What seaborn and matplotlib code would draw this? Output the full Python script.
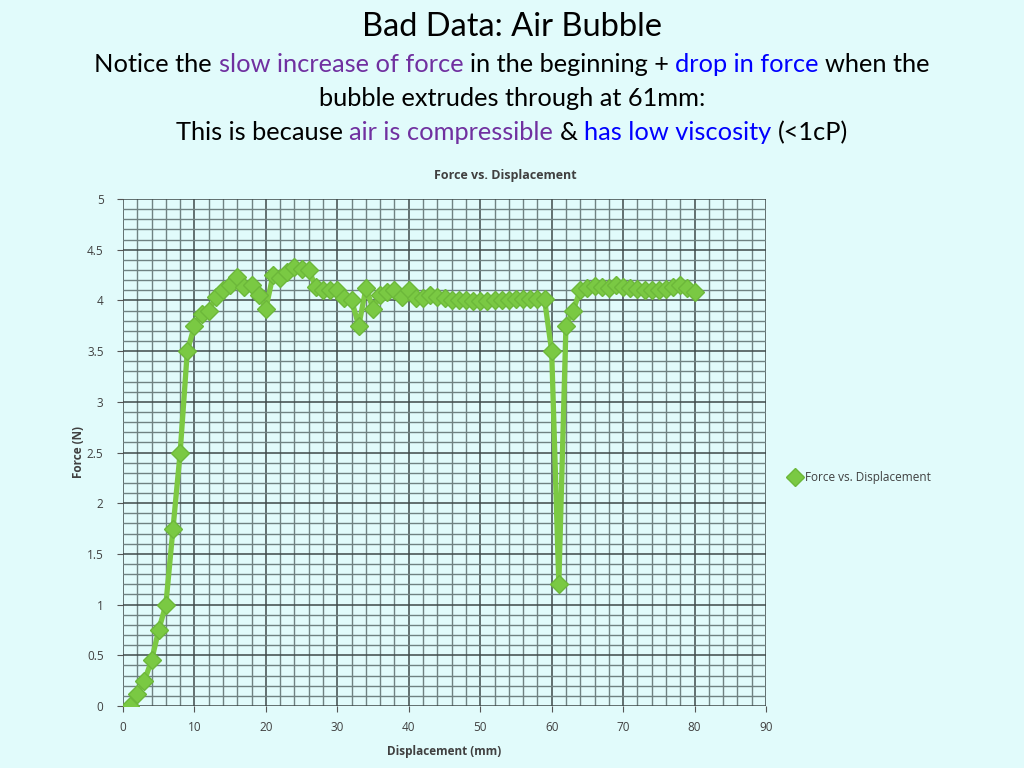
import numpy as np
import pandas as pd
import seaborn as sns
import matplotlib.pyplot as plt
from matplotlib.ticker import MultipleLocator

# дані
displacement = list(range(1, 81))
force = [0.0, 0.12, 0.25, 0.45, 0.75, 1.0, 1.75, 2.5, 3.5, 3.75,
         3.87, 3.9, 4.03, 4.1, 4.15, 4.23, 4.13, 4.15, 4.05, 3.92,
         4.25, 4.22, 4.28, 4.33, 4.31, 4.3, 4.13, 4.1, 4.1, 4.1,
         4.02, 4.0, 3.75, 4.12, 3.92, 4.05, 4.08, 4.1, 4.03, 4.1,
         4.02, 4.02, 4.05, 4.03, 4.02, 4.0, 4.0, 4.0, 3.99, 3.99,
         3.99, 4.0, 4.0, 4.0, 4.01, 4.01, 4.01, 4.01, 4.01, 3.5,
         1.2, 3.75, 3.9, 4.1, 4.12, 4.14, 4.13, 4.12, 4.15, 4.13,
         4.12, 4.11, 4.1, 4.1, 4.1, 4.11, 4.13, 4.15, 4.12, 4.08]
series_name = 'Force vs. Displacement'

df = pd.DataFrame({'Displacement (mm)': displacement, 'Force (N)': force})

bg = '#e1fbfb'
sns.set_style('white', {'axes.facecolor': bg, 'figure.facecolor': bg})
plt.rcParams['font.family'] = ['Open Sans', 'DejaVu Sans']

fig = plt.figure(figsize=(10.24, 7.68), dpi=100)
ax = fig.add_axes([123 / 1024, 1 - 706 / 768, (766 - 123) / 1024, (706 - 199) / 768])

sns.lineplot(data=df, x='Displacement (mm)', y='Force (N)', ax=ax,
             color='#7cc943', linewidth=3.8, marker='D', markersize=9,
             markerfacecolor='#7ac943', markeredgecolor='#6cb83a',
             markeredgewidth=1.0, label=series_name, zorder=5)

ax.set_xlim(0, 90)
ax.set_ylim(0, 5)
ax.xaxis.set_major_locator(MultipleLocator(10))
ax.xaxis.set_minor_locator(MultipleLocator(2))
ax.yaxis.set_major_locator(MultipleLocator(0.5))
ax.yaxis.set_minor_locator(MultipleLocator(0.1))
ax.yaxis.set_major_formatter(plt.FuncFormatter(lambda v, p: f'{v:g}'))
ax.grid(which='minor', color='#6f8282', linewidth=1.0)
ax.grid(which='major', color='#3f4a4a', linewidth=1.1)
ax.set_axisbelow(True)
for s in ax.spines.values():
    s.set_visible(False)
ax.tick_params(which='major', length=4, color='#555555', labelsize=8.5,
               labelcolor='#404040', direction='out', left=True, bottom=True)
ax.tick_params(axis='y', pad=10)
ax.tick_params(axis='x', pad=7)
ax.tick_params(which='minor', length=0)

ax.set_xlabel('Displacement (mm)', fontsize=8.5, fontweight='bold', color='#404040', labelpad=8)
ax.set_ylabel('Force (N)', fontsize=8.5, fontweight='bold', color='#404040', labelpad=1)

leg = ax.legend(loc='center left', bbox_to_anchor=(1.02, 0.45), frameon=False,
                fontsize=8.5, handlelength=1.0, handletextpad=0.3)
for t in leg.get_texts():
    t.set_color('#404040')

fig.text(505 / 1024, 1 - 175 / 768, 'Force vs. Displacement', ha='center', va='center',
         fontsize=9, fontweight='bold', color='#404040')

# заголовок слайда
title_font = ['Lato', 'DejaVu Sans']
fig.text(0.5, 1 - 27 / 768, 'Bad Data: Air Bubble', ha='center', va='center',
         fontsize=23.5, family=title_font, color='black')

purple = '#7030a0'
blue = '#0000ff'


def colored_line(y_px, parts, size=18.3):
    r = fig.canvas.get_renderer()
    W = fig.bbox.width
    probe1 = fig.text(0, 0, 'x x', fontsize=size, family=title_font)
    probe2 = fig.text(0, 0, 'xx', fontsize=size, family=title_font)
    space = probe1.get_window_extent(r).width - probe2.get_window_extent(r).width
    probe1.remove()
    probe2.remove()
    texts = []
    for s, c in parts:
        texts.append(fig.text(0, 1 - y_px / 768, s, color=c, fontsize=size,
                              family=title_font, va='center', ha='left'))
    widths = [t.get_window_extent(r).width for t in texts]
    total = sum(widths) + space * (len(parts) - 1)
    x = (W - total) / 2
    for t, w in zip(texts, widths):
        t.set_x(x / W)
        x += w + space


colored_line(65, [('Notice the', 'black'), ('slow increase of force', purple),
                  ('in the beginning +', 'black'), ('drop in force', blue),
                  ('when the', 'black')])
colored_line(99, [('bubble extrudes through at 61mm:', 'black')])
colored_line(133, [('This is because', 'black'), ('air is compressible', purple),
                   ('&', 'black'), ('has low viscosity', blue), ('(<1cP)', 'black')])

fig.savefig('out.png', dpi=100, facecolor=bg)
